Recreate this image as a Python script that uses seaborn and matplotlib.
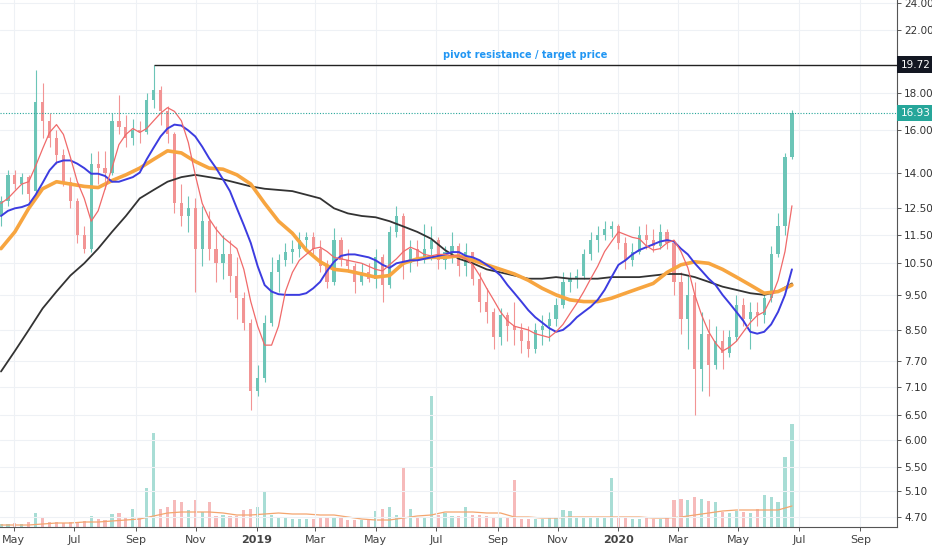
import pandas as pd
import matplotlib
matplotlib.use("Agg")
import matplotlib.pyplot as plt
from matplotlib.ticker import FixedLocator, FixedFormatter, NullLocator
import seaborn as sns

sns.set_theme(style="white")
plt.rcParams['font.family'] = ['DejaVu Sans']

# weekly candles, first week centred on 18 Apr 2018
first_week = '2018-04-18'

opens = [
    12.2, 12.8, 13.9, 13.5, 13.8, 13.2, 17.5, 16.5, 15.6, 14.8,
    13.6, 12.8, 11.5, 11.0, 14.4, 14.2, 14.0, 16.5, 16.2, 15.6,
    16.0, 15.9, 17.6, 18.2, 17.0, 15.8, 12.7, 12.2, 12.5, 11.0,
    12.0, 11.0, 10.5, 10.8, 10.1, 9.4, 8.7, 7.0, 7.3, 8.7,
    10.2, 10.6, 10.9, 11.0, 11.3, 11.4, 11.0, 10.4, 9.9, 11.3,
    10.6, 10.4, 9.9, 10.2, 10.0, 10.7, 9.8, 11.6, 12.2, 10.5,
    11.0, 10.6, 11.0, 11.3, 10.6, 10.9, 11.1, 10.4, 10.9, 10.0,
    9.3, 9.0, 8.3, 8.9, 8.6, 8.5, 8.2, 8.0, 8.5, 8.6,
    8.8, 9.2, 9.9, 10.0, 10.1, 10.8, 11.3, 11.5, 11.7, 11.8,
    11.2, 10.6, 10.9, 11.5, 11.3, 11.1, 11.6, 11.2, 9.9, 8.8,
    9.5, 7.5, 8.4, 7.6, 8.2, 7.9, 8.3, 9.2, 8.8, 9.0,
    8.9, 9.4, 10.8, 11.8, 14.7]

highs = [
    13.0, 14.1, 14.1, 14.0, 13.9, 19.4, 18.6, 16.9, 16.0, 15.1,
    13.8, 12.9, 11.8, 14.9, 15.0, 15.0, 16.9, 17.9, 16.8, 16.6,
    16.5, 18.0, 19.72, 18.4, 17.3, 15.9, 13.5, 13.0, 12.9, 12.6,
    12.4, 11.8, 11.5, 11.3, 10.7, 9.6, 8.8, 7.6, 8.9, 10.7,
    10.8, 11.2, 11.3, 11.6, 11.6, 11.6, 11.3, 10.6, 11.75, 11.4,
    11.0, 10.5, 10.5, 10.5, 11.0, 10.8, 11.8, 12.6, 12.3, 11.3,
    11.3, 11.9, 11.8, 11.4, 11.1, 11.6, 11.2, 11.2, 10.9, 10.2,
    9.7, 9.1, 9.1, 9.0, 9.3, 8.7, 8.6, 8.7, 8.9, 9.0,
    9.4, 10.2, 10.2, 10.3, 11.0, 11.6, 11.8, 12.0, 12.0, 11.9,
    11.4, 11.2, 11.8, 11.9, 11.7, 11.9, 11.7, 11.3, 10.2, 10.1,
    9.9, 9.0, 8.8, 8.6, 8.5, 8.5, 9.5, 9.4, 9.3, 9.3,
    9.6, 11.1, 12.3, 14.9, 17.1]

lows = [
    11.8, 12.6, 13.3, 13.1, 12.8, 13.1, 15.6, 15.2, 14.4, 13.4,
    12.5, 11.2, 10.85, 10.9, 13.5, 13.3, 13.9, 15.8, 15.2, 15.3,
    15.4, 15.8, 17.2, 16.3, 15.4, 12.3, 11.8, 11.6, 9.6, 10.4,
    10.6, 9.9, 10.0, 9.6, 8.8, 8.5, 6.6, 6.9, 7.2, 8.6,
    9.6, 10.4, 10.5, 10.7, 11.0, 10.8, 10.2, 9.7, 9.8, 10.4,
    10.2, 9.55, 9.8, 9.9, 9.7, 9.3, 9.7, 11.4, 10.0, 10.2,
    10.4, 10.5, 10.6, 10.3, 10.3, 10.5, 10.1, 10.1, 9.8, 9.0,
    8.7, 8.0, 8.1, 8.2, 8.1, 7.9, 7.8, 7.9, 8.1, 8.2,
    8.6, 9.1, 9.6, 9.7, 10.0, 10.6, 10.9, 11.3, 11.4, 11.0,
    10.3, 10.4, 10.8, 11.0, 10.9, 11.0, 11.0, 9.5, 8.4, 8.0,
    6.5, 7.0, 6.9, 7.5, 7.5, 7.8, 8.2, 8.6, 8.0, 8.6,
    8.7, 9.3, 10.7, 11.5, 14.6]

closes = [
    12.8, 13.9, 13.5, 13.8, 13.1, 17.5, 16.5, 15.6, 14.8, 13.6,
    12.8, 11.5, 11.0, 14.4, 14.2, 14.0, 16.5, 16.2, 15.6, 16.0,
    15.9, 17.6, 18.2, 17.0, 15.8, 12.7, 12.2, 12.5, 11.0, 12.0,
    11.0, 10.5, 10.8, 10.1, 9.4, 8.7, 7.0, 7.3, 8.7, 10.2,
    10.6, 10.9, 11.0, 11.3, 11.4, 11.0, 10.4, 9.9, 11.3, 10.6,
    10.4, 9.9, 10.2, 10.0, 10.7, 9.8, 11.6, 12.2, 10.5, 11.0,
    10.6, 11.0, 11.3, 10.6, 10.9, 11.1, 10.4, 10.9, 10.0, 9.3,
    9.0, 8.3, 8.9, 8.6, 8.5, 8.2, 8.0, 8.5, 8.6, 8.8,
    9.2, 9.9, 10.0, 10.1, 10.8, 11.3, 11.5, 11.7, 11.8, 11.2,
    10.6, 10.9, 11.5, 11.3, 11.1, 11.6, 11.2, 9.9, 8.8, 9.5,
    7.5, 8.4, 7.6, 8.2, 7.9, 8.3, 9.2, 8.8, 9.0, 8.9,
    9.4, 10.8, 11.8, 14.7, 16.93]

# volume, thousands of shares per bar
volumes = [
    30, 30, 40, 30, 50, 140, 90, 50, 50, 40,
    50, 50, 60, 110, 80, 70, 130, 140, 100, 180,
    100, 390, 940, 180, 200, 270, 250, 170, 270, 150,
    250, 110, 120, 110, 110, 170, 180, 200, 350, 120,
    100, 90, 80, 80, 80, 80, 90, 100, 100, 90,
    70, 70, 70, 70, 160, 180, 200, 120, 590, 180,
    100, 100, 1310, 120, 140, 110, 110, 200, 120, 120,
    110, 100, 100, 90, 470, 80, 80, 80, 80, 90,
    100, 170, 160, 100, 100, 100, 90, 100, 490, 90,
    100, 80, 80, 90, 80, 80, 90, 270, 280, 270,
    300, 280, 260, 250, 150, 140, 160, 150, 140, 180,
    320, 300, 250, 700, 1030]

# moving averages: fast and blue weekly, the others every second week
ma_fast = [
    12.7, 12.9, 13.2, 13.5, 13.6, 14.3, 15.1, 15.9, 16.3, 15.8,
    14.7, 13.6, 12.9, 12.0, 12.4, 13.3, 14.2, 15.3, 15.8, 16.1,
    15.9, 16.1, 16.5, 16.9, 17.2, 17.0, 16.5, 15.4, 13.9, 12.7,
    12.1, 11.7, 11.4, 11.2, 11.0, 10.3, 9.3, 8.6, 8.1, 8.1,
    8.6, 9.6, 10.2, 10.6, 10.8, 11.0, 11.05, 10.9, 10.7, 10.65,
    10.6, 10.55, 10.5, 10.4, 10.3, 10.25, 10.45, 10.65, 10.9, 11.05,
    10.95, 10.8, 10.75, 10.8, 10.8, 10.75, 10.75, 10.65, 10.45, 10.1,
    9.7, 9.35, 9.0, 8.75, 8.6, 8.55, 8.5, 8.4, 8.35, 8.3,
    8.45, 8.65, 8.95, 9.25, 9.6, 10.0, 10.4, 10.9, 11.25, 11.6,
    11.5, 11.4, 11.35, 11.1, 10.95, 11.0, 11.2, 11.3, 10.9, 10.35,
    9.5, 8.9, 8.45, 8.15, 7.95, 8.05, 8.2, 8.45, 8.7, 8.9,
    9.0, 9.4, 9.95, 10.9, 12.6]

ma_blue = [
    12.2, 12.4, 12.5, 12.55, 12.65, 13.05, 13.55, 14.1, 14.45, 14.55,
    14.55, 14.4, 14.2, 13.95, 13.95, 13.85, 13.6, 13.6, 13.7, 13.8,
    14.0, 14.6, 15.15, 15.7, 16.1, 16.3, 16.25, 16.0, 15.7, 15.2,
    14.65, 14.2, 13.7, 13.2, 12.5, 11.85, 11.2, 10.4, 9.8, 9.6,
    9.52, 9.5, 9.5, 9.5, 9.55, 9.7, 9.9, 10.25, 10.55, 10.75,
    10.8, 10.8, 10.75, 10.7, 10.6, 10.45, 10.35, 10.5, 10.55, 10.6,
    10.6, 10.65, 10.7, 10.75, 10.8, 10.88, 10.88, 10.75, 10.7, 10.6,
    10.45, 10.3, 10.1, 9.8, 9.55, 9.3, 9.05, 8.85, 8.7, 8.55,
    8.45, 8.5, 8.65, 8.85, 9.0, 9.15, 9.35, 9.65, 10.05, 10.45,
    10.6, 10.8, 10.95, 11.05, 11.15, 11.25, 11.3, 11.25, 11.0, 10.8,
    10.5, 10.25, 10.0, 9.8, 9.5, 9.25, 9.0, 8.75, 8.45, 8.4,
    8.45, 8.65, 9.0, 9.5, 10.3]

ma_orange = [
    11.0, 11.6, 12.5, 13.3, 13.6, 13.5, 13.4, 13.35, 13.65, 13.9,
    14.2, 14.6, 15.0, 14.9, 14.5, 14.2, 14.15, 13.9, 13.5, 12.7,
    12.0, 11.55, 10.95, 10.55, 10.3, 10.25, 10.15, 10.05, 10.1, 10.5,
    10.65, 10.7, 10.7, 10.75, 10.6, 10.45, 10.3, 10.15, 9.95, 9.7,
    9.5, 9.35, 9.3, 9.3, 9.4, 9.55, 9.7, 9.85, 10.2, 10.45,
    10.55, 10.5, 10.3, 10.05, 9.8, 9.55, 9.6, 9.8]

ma_black = [
    7.45, 7.95, 8.5, 9.1, 9.6, 10.1, 10.5, 11.0, 11.6, 12.2,
    12.9, 13.25, 13.6, 13.8, 13.9, 13.8, 13.7, 13.55, 13.4, 13.3,
    13.25, 13.2, 13.05, 12.9, 12.5, 12.3, 12.2, 12.15, 12.0, 11.8,
    11.6, 11.35, 10.95, 10.65, 10.5, 10.3, 10.2, 10.1, 10.0, 10.0,
    10.05, 10.0, 10.0, 10.0, 10.05, 10.05, 10.05, 10.1, 10.15, 10.15,
    10.05, 9.9, 9.75, 9.65, 9.55, 9.5, 9.6, 9.85]

vol_ma = [
    20, 20, 20, 30, 40, 40, 50, 50, 60, 70,
    80, 110, 140, 150, 150, 150, 140, 120, 120, 130,
    140, 130, 130, 120, 120, 100, 80, 70, 70, 90,
    110, 120, 150, 150, 150, 140, 140, 100, 100, 90,
    90, 100, 100, 100, 100, 100, 100, 90, 90, 100,
    120, 140, 160, 170, 170, 170, 170, 210]

resistance = 19.72
last_price = 16.93
peak_week = 22

price_ticks = [24.0, 22.0, 18.0, 16.0, 14.0, 12.5, 11.5, 10.5, 9.5, 8.5,
               7.7, 7.1, 6.5, 6.0, 5.5, 5.1, 4.7]
month_ticks = ['2018-05-01', '2018-07-01', '2018-09-01', '2018-11-01', '2019-01-01',
               '2019-03-01', '2019-05-01', '2019-07-01', '2019-09-01', '2019-11-01',
               '2020-01-01', '2020-03-01', '2020-05-01', '2020-07-01', '2020-09-01']
month_labels = ['May', 'Jul', 'Sep', 'Nov', '2019', 'Mar', 'May', 'Jul', 'Sep', 'Nov',
                '2020', 'Mar', 'May', 'Jul', 'Sep']

UP = '#6cc5b7'
DOWN = '#f29494'
TEAL = '#26a69a'

weeks = pd.date_range(first_week, periods=len(closes), freq='7D')
weeks2 = weeks[::2]
x_left = pd.Timestamp('2018-04-17')
x_right = pd.Timestamp('2020-10-08')

fig = plt.figure(figsize=(9.32, 5.5), dpi=100)
rect = [0, 23 / 550, 897 / 932, 527 / 550]

# volume pane underneath
ax_vol = fig.add_axes(rect)
ax_vol.set_facecolor('white')
vol_colors = ['#a8ddd5' if c >= o else '#f6baba' for o, c in zip(opens, closes)]
ax_vol.bar(weeks, volumes, width=3.2, color=vol_colors, linewidth=0)
sns.lineplot(x=weeks2, y=vol_ma, ax=ax_vol, color='#f4a56e', linewidth=0.9)
ax_vol.set_ylim(0, 5270)
ax_vol.set_xlim(x_left, x_right)
ax_vol.axis('off')

# price pane
ax = fig.add_axes(rect)
ax.patch.set_alpha(0)
ax.set_yscale('log')

colors = [UP if c >= o else DOWN for o, c in zip(opens, closes)]
bodies = [max(abs(c - o), 0.03) for o, c in zip(opens, closes)]
bottoms = [min(o, c) for o, c in zip(opens, closes)]
ax.vlines(weeks, lows, highs, colors=colors, linewidth=0.8, zorder=2)
ax.bar(weeks, bodies, bottom=bottoms, width=3.2, color=colors, linewidth=0, zorder=2)

sns.lineplot(x=weeks2, y=ma_black, ax=ax, color='#333333', linewidth=1.3, zorder=3)
sns.lineplot(x=weeks2, y=ma_orange, ax=ax, color='#f7a540', linewidth=2.6, zorder=3)
sns.lineplot(x=weeks, y=ma_blue, ax=ax, color='#3c3ce0', linewidth=1.4, zorder=4)
sns.lineplot(x=weeks, y=ma_fast, ax=ax, color='#f06a6a', linewidth=0.9, zorder=4)

ax.hlines(resistance, weeks[peak_week], x_right, color='#222222', linewidth=1.0, zorder=5)
ax.axhline(last_price, color=TEAL, linestyle=(0, (1, 1.5)), linewidth=0.8, zorder=5)
ax.text(0.585, 20.35, 'pivot resistance / target price', transform=ax.get_yaxis_transform(),
        ha='center', va='center', color='#2196f3', fontsize=7, fontweight='bold')

ax.set_xlim(x_left, x_right)
ax.set_ylim(4.55, 24.2)

ax.yaxis.tick_right()
ax.yaxis.set_major_locator(FixedLocator(price_ticks))
ax.yaxis.set_major_formatter(FixedFormatter([f'{t:.2f}' for t in price_ticks]))
ax.yaxis.set_minor_locator(NullLocator())
ax.set_xticks(pd.to_datetime(month_ticks))
ax.set_xticklabels(month_labels)
for lab in ax.get_xticklabels():
    if lab.get_text() in ('2019', '2020'):
        lab.set_fontweight('bold')
ax.tick_params(axis='y', which='major', right=True, length=3, width=0.7, color='#555555',
               labelsize=7.5, labelcolor='#333333', pad=2)
ax.tick_params(axis='x', which='major', bottom=True, length=3, width=0.7, color='#555555',
               labelsize=8, labelcolor='#444444', pad=3)
ax.set_xlabel('')
ax.set_ylabel('')

ax.grid(True, color='#eef1f5', linewidth=0.8)
ax.set_axisbelow(True)
for side in ('left', 'top'):
    ax.spines[side].set_visible(False)
for side in ('right', 'bottom'):
    ax.spines[side].set_color('#555555')
    ax.spines[side].set_linewidth(0.8)

# price labels on the scale
ax.text(1.004, resistance, f'{resistance:.2f}', transform=ax.get_yaxis_transform(),
        ha='left', va='center', color='white', fontsize=7.5, clip_on=False, zorder=6,
        bbox=dict(boxstyle='square,pad=0.3', fc='#131722', ec='none'))
ax.text(1.004, last_price, f'{last_price:.2f}', transform=ax.get_yaxis_transform(),
        ha='left', va='center', color='white', fontsize=7.5, clip_on=False, zorder=6,
        bbox=dict(boxstyle='square,pad=0.3', fc=TEAL, ec='none'))

fig.savefig('out.png', dpi=100, facecolor='white')
